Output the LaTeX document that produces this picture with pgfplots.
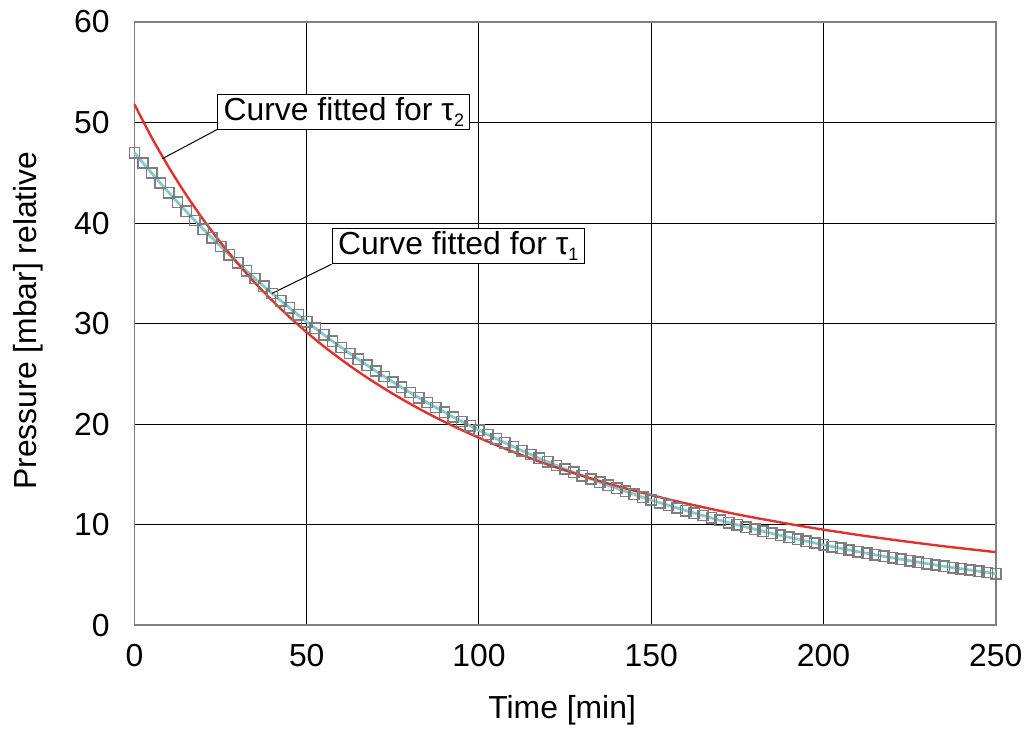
\documentclass[border=0pt]{standalone}
\usepackage{pgfplots}
\pgfplotsset{compat=1.18}
\usepackage{fontspec}
\setmainfont{Liberation Sans}
\definecolor{redc}{HTML}{E3302B}
\definecolor{tealc}{HTML}{7FCDCD}
\definecolor{markc}{HTML}{7E7E7E}
\newcommand{\sub}[1]{\raisebox{-0.35ex}{\fontsize{9}{9}\selectfont #1}}
\begin{document}
\fontsize{16}{19}\selectfont
\begin{tikzpicture}
\begin{axis}[
  scale only axis,
  width=432.5pt, height=303pt,
  xmin=0, xmax=250, ymin=0, ymax=60,
  xtick={0,50,...,250}, ytick={0,10,...,60},
  grid=major,
  major grid style={black, line width=0.5pt},
  axis line style={draw=black!50, line width=0.9pt},
  tick style={draw=none},
  /pgf/number format/assume math mode=true,
  ticklabel style={font=\fontsize{16}{19}\selectfont},
  xticklabel style={yshift=-4pt},
  yticklabel style={xshift=-7pt},
  xlabel={Time [min]},
  ylabel={Pressure [mbar] relative},
  xlabel style={font=\fontsize{16}{19}\selectfont, at={(axis description cs:0.4965,-0.140)}, anchor=center},
  ylabel style={font=\fontsize{16}{19}\selectfont, at={(axis description cs:-0.1237,0.505)}, anchor=center},
  clip=false,
]
\path (rel axis cs:-0.1561,-0.1667) rectangle (rel axis cs:1.0382,1.0330);
\addplot[tealc, line width=1.4pt, mark=square, mark size=2.6pt,
  mark options={draw=markc, line width=0.75pt, fill=none}] coordinates {
(0,47.00) (2.5,45.97) (5,44.97) (7.5,43.98) (10,43.02) (12.5,42.08) (15,41.16) (17.5,40.26) (20,39.38) (22.5,38.52)
(25,37.67) (27.5,36.85) (30,36.04) (32.5,35.25) (35,34.48) (37.5,33.73) (40,32.99) (42.5,32.27) (45,31.56) (47.5,30.87)
(50,30.19) (52.5,29.53) (55,28.88) (57.5,28.25) (60,27.63) (62.5,27.03) (65,26.44) (67.5,25.86) (70,25.29) (72.5,24.74)
(75,24.20) (77.5,23.67) (80,23.15) (82.5,22.64) (85,22.15) (87.5,21.66) (90,21.19) (92.5,20.72) (95,20.27) (97.5,19.83)
(100,19.40) (102.5,18.97) (105,18.56) (107.5,18.15) (110,17.75) (112.5,17.37) (115,16.99) (117.5,16.61) (120,16.25) (122.5,15.89)
(125,15.55) (127.5,15.21) (130,14.87) (132.5,14.55) (135,14.23) (137.5,13.92) (140,13.62) (142.5,13.32) (145,13.03) (147.5,12.74)
(150,12.46) (152.5,12.19) (155,11.93) (157.5,11.66) (160,11.41) (162.5,11.16) (165,10.92) (167.5,10.68) (170,10.44) (172.5,10.21)
(175,9.99) (177.5,9.77) (180,9.56) (182.5,9.35) (185,9.14) (187.5,8.94) (190,8.75) (192.5,8.56) (195,8.37) (197.5,8.19)
(200,8.00) (202.5,7.83) (205,7.66) (207.5,7.49) (210,7.33) (212.5,7.17) (215,7.01) (217.5,6.86) (220,6.71) (222.5,6.56)
(225,6.42) (227.5,6.28) (230,6.14) (232.5,6.00) (235,5.87) (237.5,5.74) (240,5.62) (242.5,5.50) (245,5.38) (247.5,5.26)
(250,5.14)
};
\addplot[redc, line width=1.2pt, no marks, smooth] coordinates {
(0,51.80) (5,48.51) (10,45.53) (15,42.81) (20,40.33) (25,38.06) (30,35.97) (35,34.05) (40,32.29) (45,30.65)
(50,29.14) (55,27.73) (60,26.43) (65,25.21) (70,24.08) (75,23.02) (80,22.03) (85,21.10) (90,20.23) (95,19.42)
(100,18.65) (105,17.92) (110,17.24) (115,16.60) (120,15.99) (125,15.41) (130,14.87) (135,14.35) (140,13.86) (145,13.39)
(150,12.95) (155,12.53) (160,12.13) (165,11.75) (170,11.38) (175,11.03) (180,10.70) (185,10.39) (190,10.08) (195,9.79)
(200,9.51) (205,9.25) (210,8.99) (215,8.75) (220,8.51) (225,8.29) (230,8.07) (235,7.86) (240,7.66) (245,7.47)
(250,7.28)
};
\draw[black, line width=0.5pt] (axis cs:24.0,49.3) -- (axis cs:8.1,46.4);
\node[draw=black, line width=0.5pt, fill=white, anchor=south west, inner xsep=3pt, inner ysep=1.5pt,
  font=\fontsize{16}{19}\selectfont]
  at (axis cs:24.0,49.3) {Curve fitted for τ\sub{2}};
\draw[black, line width=0.5pt] (axis cs:57.2,35.9) -- (axis cs:39.9,33.0);
\node[draw=black, line width=0.5pt, fill=white, anchor=south west, inner xsep=3pt, inner ysep=1.5pt,
  font=\fontsize{16}{19}\selectfont]
  at (axis cs:57.2,35.9) {Curve fitted for τ\sub{1}};
\end{axis}
\end{tikzpicture}
\end{document}
